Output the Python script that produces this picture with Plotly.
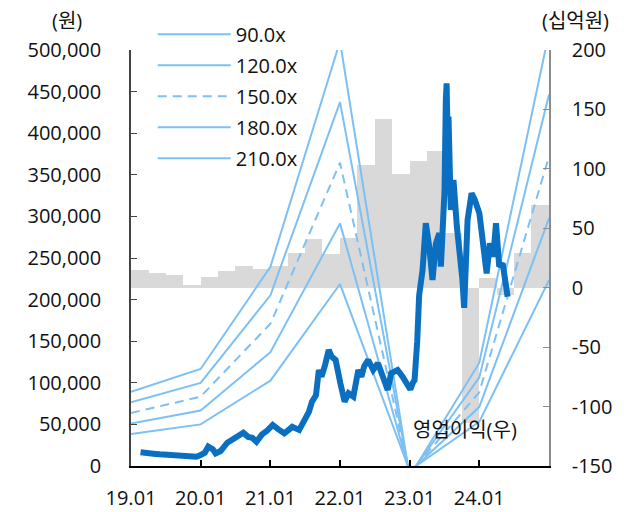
import plotly.graph_objects as go

# ---- data ----
band_dates = ["2019-01-01", "2020-01-01", "2021-01-01", "2022-01-01",
              "2023-01-01", "2024-01-01", "2025-01-01"]
band_90 = [38300, 50000, 102600, 218700, -5400, 53100, 223200]
band_120 = [51000, 66600, 136800, 291600, -7200, 70800, 297600]
band_150 = [63800, 83300, 171000, 364500, -9000, 88500, 372000]
band_180 = [76500, 99900, 205200, 437400, -10800, 106200, 446400]
band_210 = [89300, 116600, 239400, 510300, -12600, 123900, 520800]
band_names = ["90.0x", "120.0x", "150.0x", "180.0x", "210.0x"]

quarter_starts = ["2019-01-01", "2019-04-01", "2019-07-01", "2019-10-01",
                  "2020-01-01", "2020-04-01", "2020-07-01", "2020-10-01",
                  "2021-01-01", "2021-04-01", "2021-07-01", "2021-10-01",
                  "2022-01-01", "2022-04-01", "2022-07-01", "2022-10-01",
                  "2023-01-01", "2023-04-01", "2023-07-01", "2023-10-01",
                  "2024-01-01", "2024-04-01", "2024-07-01", "2024-10-01"]
op_profit = [15, 12, 10.5, 2.5, 9.2, 14, 18.4, 15.7,
             18, 29, 41, 28, 42, 103, 142, 96,
             107, 115, 46, -114, 8, -6, 29, 70]

price_dates = [
    "2019-02-20", "2019-03-15", "2019-04-10", "2019-05-10", "2019-06-01", "2019-07-01",
    "2019-07-25", "2019-08-20", "2019-09-15", "2019-10-10", "2019-11-07", "2019-12-10",
    "2020-01-01", "2020-01-23", "2020-02-10", "2020-02-25", "2020-03-05", "2020-03-20",
    "2020-04-15", "2020-05-20", "2020-06-15", "2020-07-12", "2020-08-12", "2020-09-06",
    "2020-09-28", "2020-10-20", "2020-11-18", "2020-12-13", "2021-01-13", "2021-02-12",
    "2021-03-15", "2021-04-10", "2021-04-25", "2021-06-01", "2021-07-05", "2021-07-22",
    "2021-08-07", "2021-08-28", "2021-09-12", "2021-09-26", "2021-10-13", "2021-11-03",
    "2021-11-18", "2021-12-09", "2022-01-03", "2022-01-25", "2022-02-15", "2022-03-12",
    "2022-04-07", "2022-04-23", "2022-05-08", "2022-05-29", "2022-06-24", "2022-07-19",
    "2022-08-14", "2022-09-08", "2022-09-26", "2022-10-30", "2022-11-25", "2022-12-21",
    "2023-01-05", "2023-01-18", "2023-01-27", "2023-02-10", "2023-02-20", "2023-03-10",
    "2023-03-27", "2023-04-14", "2023-05-01", "2023-05-19", "2023-06-06", "2023-06-14",
    "2023-06-23", "2023-07-03", "2023-07-10", "2023-07-14", "2023-07-19", "2023-07-24",
    "2023-08-05", "2023-08-19", "2023-09-06", "2023-09-26", "2023-10-05", "2023-10-14",
    "2023-10-21", "2023-11-01", "2023-11-22", "2023-12-09", "2024-01-02", "2024-01-19",
    "2024-02-09", "2024-02-26", "2024-03-15", "2024-03-29", "2024-04-15", "2024-05-03",
    "2024-05-20", "2024-05-29"]
price = [
    16500, 15500, 15000, 14500, 14000, 13500,
    13000, 12800, 12500, 12000, 11500, 11200,
    13200, 16000, 23200, 21500, 20000, 15200,
    18000, 28000, 32000, 36000, 40000, 35000,
    34000, 29200, 38000, 42000, 49300, 44000,
    39300, 44000, 47200, 43300, 59300, 65000,
    77300, 85000, 115400, 107300, 120000, 139400,
    131400, 127400, 99400, 77300, 87400, 83300,
    115400, 107300, 120000, 127400, 115400, 123400,
    107300, 91400, 111400, 115400, 107300, 95300,
    92000, 100000, 103400, 150000, 205000, 235600,
    291700, 263700, 223600, 267700, 279700, 239600,
    295700, 330000, 440000, 460000, 400000, 420000,
    307700, 343800, 287700, 251600, 223600, 190000,
    230000, 295700, 327800, 319700, 303700, 267700,
    231600, 267700, 251600, 291700, 239600, 243600,
    211500, 203500]

year_ticks = ["2019-01-01", "2020-01-01", "2021-01-01", "2022-01-01",
              "2023-01-01", "2024-01-01", "2025-01-01"]
year_labels = ["19.01", "20.01", "21.01", "22.01", "23.01", "24.01", ""]
left_ticks = [0, 50000, 100000, 150000, 200000, 250000, 300000, 350000, 400000, 450000, 500000]
right_ticks = [-150, -100, -50, 0, 50, 100, 150, 200]
right_labels = ["-150", "-100", "-50", "0", "50", "100", "150", "200"]

FONT = "Open Sans, Noto Sans CJK KR, sans-serif"
BAND_COLOR = "#7CC0F4"
PRICE_COLOR = "#0B6FC1"
BAR_COLOR = "#D9D9D9"
QUARTER_MS = 92 * 24 * 3600 * 1000

fig = go.Figure()

fig.add_trace(go.Bar(
    x=quarter_starts, y=op_profit, yaxis="y",
    width=[QUARTER_MS] * len(op_profit), offset=0,
    marker=dict(color=BAR_COLOR, line=dict(width=0)),
    showlegend=False, hoverinfo="skip"))

bands = [band_90, band_120, band_150, band_180, band_210]
for name, vals in zip(band_names, bands):
    fig.add_trace(go.Scatter(
        x=band_dates, y=vals, yaxis="y2", mode="lines", name=name,
        legendgroup=name,
        line=dict(color=BAND_COLOR, width=2,
                  dash="9px,6px" if name == "150.0x" else "solid")))

fig.add_trace(go.Scatter(
    x=price_dates, y=price, yaxis="y2", mode="lines",
    line=dict(color=PRICE_COLOR, width=6), showlegend=False))

fig.update_layout(
    width=642, height=512, autosize=False,
    margin=dict(l=131, r=93, t=50, b=46, autoexpand=False),
    plot_bgcolor="white", paper_bgcolor="white",
    font=dict(family=FONT, size=20, color="#111111"),
    bargap=0,
    xaxis=dict(type="date", range=["2019-01-01", "2025-01-01"],
               tickvals=year_ticks, ticktext=year_labels,
               ticks="inside", ticklen=6, tickwidth=1.5, tickcolor="black",
               showline=True, linecolor="black", linewidth=2,
               showgrid=False, zeroline=False, ticklabelstandoff=13,
               automargin=False),
    yaxis=dict(side="right", range=[-150, 200], tickvals=right_ticks,
               ticktext=right_labels, ticks="inside", ticklen=6,
               tickcolor="#8C8C8C", showline=True, linecolor="#8C8C8C",
               linewidth=1.5, showgrid=False, zeroline=False,
               ticklabelstandoff=17, automargin=False),
    yaxis2=dict(side="left", overlaying="y", range=[0, 500000],
                tickvals=left_ticks, tickformat=",d", ticks="inside",
                ticklen=6, tickcolor="#444444", showline=True,
                linecolor="#444444", linewidth=1.5, showgrid=False,
                zeroline=False, ticklabelstandoff=24, automargin=False),
    legend=dict(x=0.052, y=1.085, xanchor="left", yanchor="top",
                bgcolor="rgba(0,0,0,0)", font=dict(size=20),
                itemwidth=73, tracegroupgap=2),
    annotations=[
        dict(text="(원)", xref="paper", yref="paper", x=-0.152, y=1.07,
             showarrow=False, xanchor="center", yanchor="middle"),
        dict(text="(십억원)", xref="paper", yref="paper", x=1.064, y=1.07,
             showarrow=False, xanchor="center", yanchor="middle"),
        dict(text="영업이익(우)", xref="paper", yref="paper", x=0.80, y=0.087,
             showarrow=False, xanchor="center", yanchor="middle"),
    ],
)

fig.write_html("out.html", config={"displayModeBar": False},
               post_script="document.body.style.margin='0';document.body.style.overflow='hidden';")
